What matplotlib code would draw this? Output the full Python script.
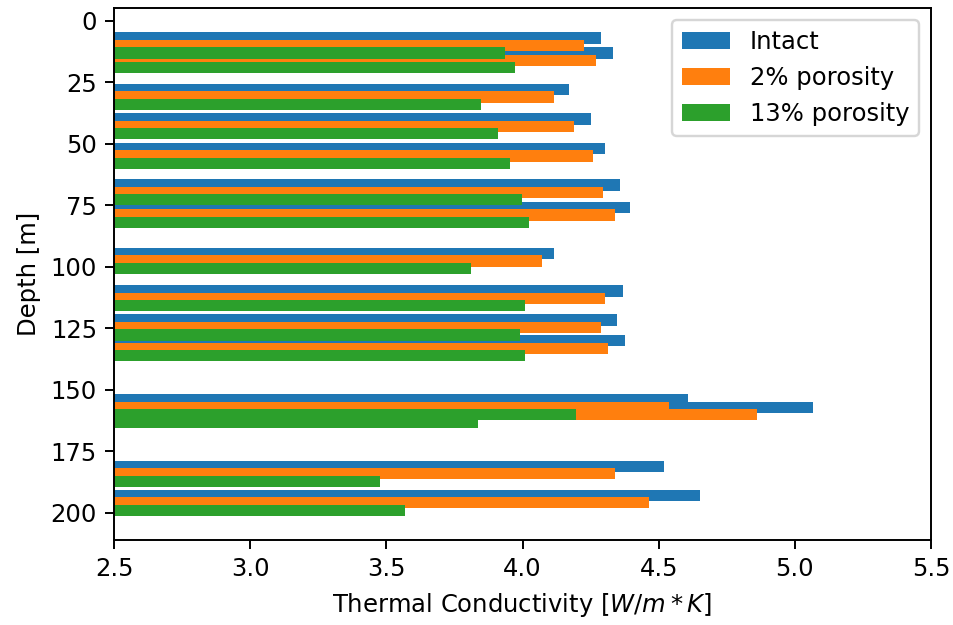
"""Thermal conductivity vs depth, three porosity cases as horizontal bars."""

import matplotlib

matplotlib.use("Agg")
import matplotlib.pyplot as plt  # noqa: E402
import numpy as np  # noqa: E402

depth = np.array([10, 16, 31, 42.9, 54.9, 69.7, 78.9, 97.6, 112.8, 124.7,
                  133.1, 157.1, 160.1, 184.2, 196])
intact = [4.287, 4.331, 4.171, 4.250, 4.304, 4.358, 4.395, 4.117, 4.367, 4.348,
          4.375, 4.609, 5.066, 4.520, 4.652]
poro_2 = [4.224, 4.270, 4.117, 4.189, 4.260, 4.297, 4.341, 4.072, 4.304, 4.287,
          4.313, 4.537, 4.860, 4.341, 4.465]
poro_13 = [3.936, 3.973, 3.848, 3.910, 3.954, 3.999, 4.025, 3.811, 4.009, 3.991,
           4.009, 4.197, 3.838, 3.478, 3.568]

shift = 3.0   # offset between series [m]
h = 4.6       # bar thickness [m]

DPI = 175
fig = plt.figure(figsize=(954 / DPI, 625 / DPI), dpi=DPI)
ax = fig.add_axes([0.1195, 0.136, 0.976 - 0.1195, 0.9867 - 0.136])

ax.barh(depth - shift, intact, height=h, label="Intact")
ax.barh(depth, poro_2, height=h, label="2% porosity")
ax.barh(depth + shift, poro_13, height=h, label="13% porosity")

ax.set_xlim(2.5, 5.5)
ax.invert_yaxis()
ax.set_xlabel("Thermal Conductivity [$W/m*K$]")
ax.set_ylabel("Depth [m]")
ax.legend(loc="upper right")

fig.savefig("out.png", dpi=DPI)
